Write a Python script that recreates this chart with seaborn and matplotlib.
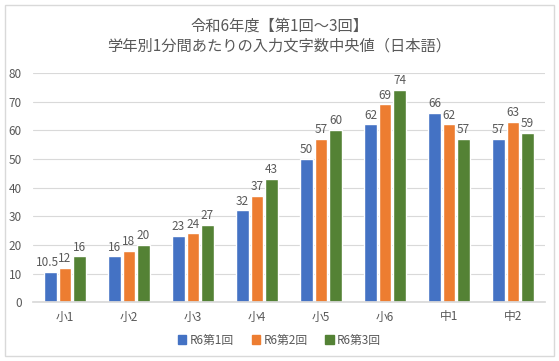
import pandas as pd
import matplotlib
matplotlib.use('Agg')
import matplotlib.pyplot as plt
import matplotlib.patches as mpatches
import seaborn as sns

# Chart data
grades = ['小1', '小2', '小3', '小4', '小5', '小6', '中1', '中2']
series = ['R6第1回', 'R6第2回', 'R6第3回']
round1 = [10.5, 16, 23, 32, 50, 62, 66, 57]
round2 = [12, 18, 24, 37, 57, 69, 62, 63]
round3 = [16, 20, 27, 43, 60, 74, 57, 59]
colors = ['#4472C4', '#ED7D31', '#548235']

df = pd.DataFrame({
    'grade': grades * 3,
    'series': [series[0]] * 8 + [series[1]] * 8 + [series[2]] * 8,
    'value': round1 + round2 + round3,
})

sns.set_theme(style='white')
plt.rcParams['font.family'] = ['Noto Sans CJK JP', 'DejaVu Sans']
text_color = '#595959'

fig = plt.figure(figsize=(5.59, 3.61), dpi=100, facecolor='w')
ax = fig.add_axes([0.059, 0.163, 0.916, 0.635])

sns.barplot(
    ax=ax, data=df, x='grade', y='value', hue='series', palette=colors,
    width=0.68, gap=0.12, saturation=1, legend=False
)
for cont in ax.containers:
    labels = ax.bar_label(cont, labels=['{:g}'.format(v) for v in cont.datavalues],
                          padding=2, fontsize=8.5, color=text_color)
    # the 10.5 label is wider than its bar, nudge it left like the original
    for lab, v in zip(labels, cont.datavalues):
        if v == 10.5:
            lab.set_horizontalalignment('right')
            lab.xyann = (6, lab.xyann[1])

ax.set_ylim(0, 80)
ax.set_yticks(range(0, 81, 10))
ax.grid(axis='y', color='#D9D9D9', linewidth=0.8)
ax.set_axisbelow(True)
for s in ['left', 'right', 'top']:
    ax.spines[s].set_visible(False)
ax.spines['bottom'].set_color('#D9D9D9')
ax.tick_params(axis='both', length=0, labelsize=8.5, colors=text_color)
ax.tick_params(axis='y', pad=8)
ax.tick_params(axis='x', pad=6)
ax.set_xlabel('')
ax.set_ylabel('')

fig.text(0.5, 0.95, '令和6年度【第1回～3回】\n学年別1分間あたりの入力文字数中央値（日本語）',
         ha='center', va='top', fontsize=11, color=text_color, linespacing=1.2)

patches = [mpatches.Patch(color=c, label=s) for c, s in zip(colors, series)]
fig.legend(handles=patches, loc='center', bbox_to_anchor=(0.5, 0.058), ncol=3,
           frameon=False, fontsize=8.5, handlelength=0.7, handleheight=0.7,
           handletextpad=0.3, columnspacing=1.5, labelcolor=text_color)

fig.patches.append(mpatches.Rectangle((0.009, 0.014), 0.982, 0.972, transform=fig.transFigure,
                                      fill=False, edgecolor='#D9D9D9', linewidth=1))

plt.savefig('out.png', dpi=100)
